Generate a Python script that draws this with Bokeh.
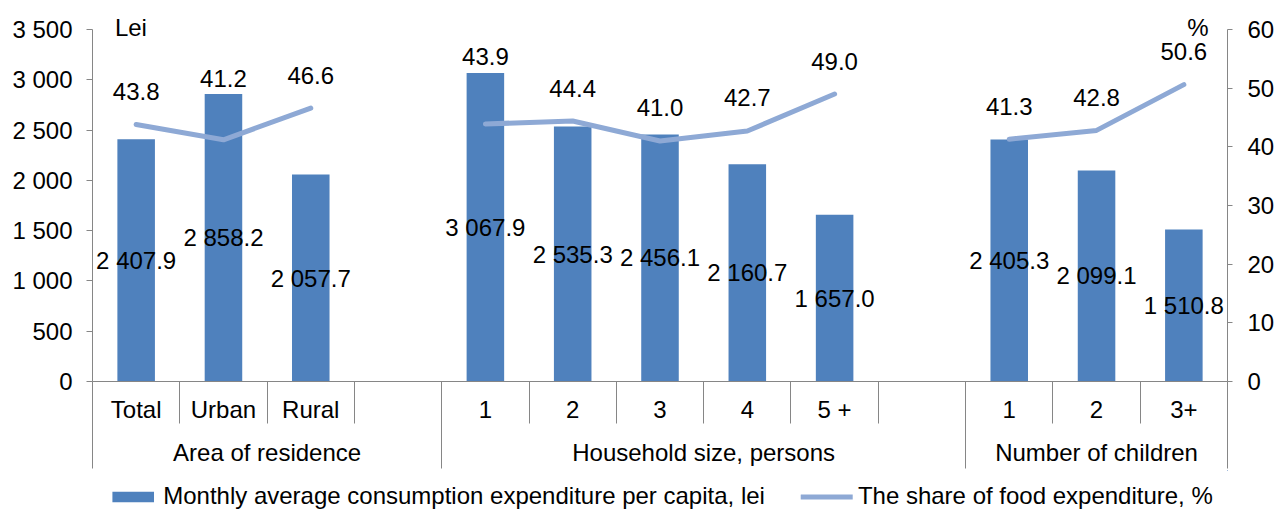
from bokeh.plotting import figure
from bokeh.layouts import column
from bokeh.models import (Range1d, LinearAxis, FixedTicker, ColumnDataSource,
                          Legend, LegendItem)
from bokeh.embed import file_html
from bokeh.resources import INLINE
from bokeh.core.properties import value

# ---------------- data ----------------
group_names = ["Area of residence", "Household size, persons", "Number of children"]

area_labels = ["Total", "Urban", "Rural"]
area_expenditure = [2407.9, 2858.2, 2057.7]
area_food_share = [43.8, 41.2, 46.6]

hh_labels = ["1", "2", "3", "4", "5 +"]
hh_expenditure = [3067.9, 2535.3, 2456.1, 2160.7, 1657.0]
hh_food_share = [43.9, 44.4, 41.0, 42.7, 49.0]

children_labels = ["1", "2", "3+"]
children_expenditure = [2405.3, 2099.1, 1510.8]
children_food_share = [41.3, 42.8, 50.6]

lei_ticks = [0, 500, 1000, 1500, 2000, 2500, 3000, 3500]
pct_ticks = [0, 10, 20, 30, 40, 50, 60]

left_unit = "Lei"
right_unit = "%"

bar_series_name = "Monthly average consumption expenditure per capita, lei"
line_series_name = "The share of food expenditure, %"

# ---------------- style ----------------
FONT = "Liberation Sans"
FS = "24px"
GRAY = "#868686"
BAR_COLOR = "#4F81BD"
LINE_COLOR = "#8EA9D5"
W = 1277
H_MAIN = 470
H_LEG = 40
B_LEFT, B_RIGHT, B_TOP, B_BOTTOM = 92, 49, 29, 89
FRAME_H = H_MAIN - B_TOP - B_BOTTOM

groups = [
    (area_labels, area_expenditure, area_food_share),
    (hh_labels, hh_expenditure, hh_food_share),
    (children_labels, children_expenditure, children_food_share),
]

# slot layout: each group followed by one empty slot (except the last)
xs, labs, exps, shares = [], [], [], []
line_x, line_y = [], []
group_centers, group_bounds = [], [0]
offset = 0
for gi, (lab, ex, sh) in enumerate(groups):
    n = len(lab)
    span = n + (1 if gi < len(groups) - 1 else 0)
    for i in range(n):
        xs.append(offset + i + 0.5)
        labs.append(lab[i])
        exps.append(ex[i])
        shares.append(sh[i])
        line_x.append(offset + i + 0.5)
        line_y.append(sh[i])
    if gi < len(groups) - 1:
        line_x.append(float("nan"))
        line_y.append(float("nan"))
    group_centers.append(offset + span / 2)
    offset += span
    group_bounds.append(offset)
n_slots = offset

lei_max = lei_ticks[-1]
pct_max = pct_ticks[-1]
px_per_pct = FRAME_H / pct_max

bar_src = ColumnDataSource(dict(
    x=xs, top=exps, mid=[e / 2 for e in exps],
    txt=[f"{e:,.1f}".replace(",", " ") for e in exps]))

line_label_y = [max(s + 33 / px_per_pct, e * pct_max / lei_max + 16 / px_per_pct)
                for s, e in zip(shares, exps)]
line_lab_src = ColumnDataSource(dict(x=xs, y=line_label_y,
                                     txt=[f"{s:.1f}" for s in shares]))

p = figure(width=W, height=H_MAIN,
           x_range=Range1d(0, n_slots), y_range=Range1d(0, lei_max),
           x_axis_type=None, y_axis_type=None,
           output_backend="svg", toolbar_location=None,
           min_border_left=B_LEFT, min_border_right=B_RIGHT,
           min_border_top=B_TOP, min_border_bottom=B_BOTTOM)
p.extra_y_ranges = {"pct": Range1d(0, pct_max)}
p.outline_line_color = None
p.background_fill_color = "white"
p.border_fill_color = "white"


def style_axis(ax):
    ax.axis_line_color = GRAY
    ax.major_tick_line_color = GRAY
    ax.minor_tick_line_color = None
    ax.major_label_text_font = FONT
    ax.major_label_text_font_size = FS
    ax.major_label_text_color = "black"


yl = LinearAxis(ticker=FixedTicker(ticks=lei_ticks),
                major_label_overrides={t: f"{t:,}".replace(",", " ") for t in lei_ticks})
style_axis(yl)
yl.major_tick_out = 6
yl.major_tick_in = 0
yl.major_label_standoff = 14
p.add_layout(yl, "left")

yr = LinearAxis(y_range_name="pct", ticker=FixedTicker(ticks=pct_ticks))
style_axis(yr)
yr.major_tick_out = 5
yr.major_tick_in = 0
yr.major_label_standoff = 15
p.add_layout(yr, "right")

# unit captions ("Lei" / "%") as labels of a bare top axis
unit_x = [0.44, n_slots - 0.34]
xt = LinearAxis(ticker=FixedTicker(ticks=unit_x),
                major_label_overrides={unit_x[0]: left_unit, unit_x[1]: right_unit})
style_axis(xt)
xt.axis_line_color = None
xt.major_tick_line_color = None
xt.major_tick_out = 0
xt.major_tick_in = 0
xt.major_label_standoff = -11
p.add_layout(xt, "above")

# category row
x1 = LinearAxis(ticker=FixedTicker(ticks=xs, minor_ticks=list(range(0, n_slots + 1))),
                major_label_overrides={x: l for x, l in zip(xs, labs)})
style_axis(x1)
x1.major_tick_line_color = None
x1.major_tick_out = 0
x1.major_tick_in = 0
x1.minor_tick_line_color = GRAY
x1.minor_tick_out = 42
x1.minor_tick_in = 0
x1.major_label_standoff = -28
p.add_layout(x1, "below")

# group row
x2 = LinearAxis(ticker=FixedTicker(ticks=group_centers, minor_ticks=group_bounds),
                major_label_overrides={c: g for c, g in zip(group_centers, group_names)})
style_axis(x2)
x2.axis_line_color = None
x2.major_tick_line_color = None
x2.major_tick_out = 0
x2.major_tick_in = 0
x2.minor_tick_line_color = GRAY
x2.minor_tick_out = 43
x2.minor_tick_in = 3
x2.major_label_standoff = -30
p.add_layout(x2, "below")

bars = p.vbar(x="x", top="top", width=0.43, source=bar_src,
              fill_color=BAR_COLOR, line_color=None)
line = p.line(line_x, line_y, y_range_name="pct", line_color=LINE_COLOR,
              line_width=5, line_cap="round", line_join="round")

p.text(x="x", y="mid", text="txt", source=bar_src, text_align="center",
       text_baseline="middle", text_font=value(FONT), text_font_size=value(FS),
       text_color="black")
p.text(x="x", y="y", text="txt", source=line_lab_src, y_range_name="pct",
       text_align="center", text_baseline="middle", text_font=value(FONT),
       text_font_size=value(FS), text_color="black")

# ---------------- legend strip ----------------
# same series re-plotted in a strip whose window lies away from all values,
# so only the legend swatches are visible
lg = figure(width=W, height=H_LEG, x_range=Range1d(-2, -1),
            y_range=Range1d(-2, -1),
            x_axis_type=None, y_axis_type=None, output_backend="svg",
            toolbar_location=None, min_border_left=B_LEFT - 6,
            min_border_right=B_RIGHT, min_border_top=0, min_border_bottom=0)
lg.outline_line_color = None
lg.background_fill_color = "white"
lg.border_fill_color = "white"
leg_bar = lg.vbar(x="x", top="top", width=0.43, source=bar_src,
                  fill_color=BAR_COLOR, line_color=None)
leg_line = lg.line(line_x, line_y, line_color=LINE_COLOR, line_width=5,
                   line_cap="round")

legend = Legend(items=[LegendItem(label=bar_series_name, renderers=[leg_bar]),
                       LegendItem(label=line_series_name, renderers=[leg_line])],
                location="bottom_center", orientation="horizontal",
                glyph_width=52, glyph_height=13, label_standoff=5, spacing=36,
                padding=0, margin=0, border_line_color=None,
                background_fill_alpha=0, label_text_font=FONT,
                label_text_font_size=FS, label_text_color="black")
lg.add_layout(legend)

layout = column(p, lg, spacing=0)
open("out.html", "w").write(file_html(layout, INLINE))
